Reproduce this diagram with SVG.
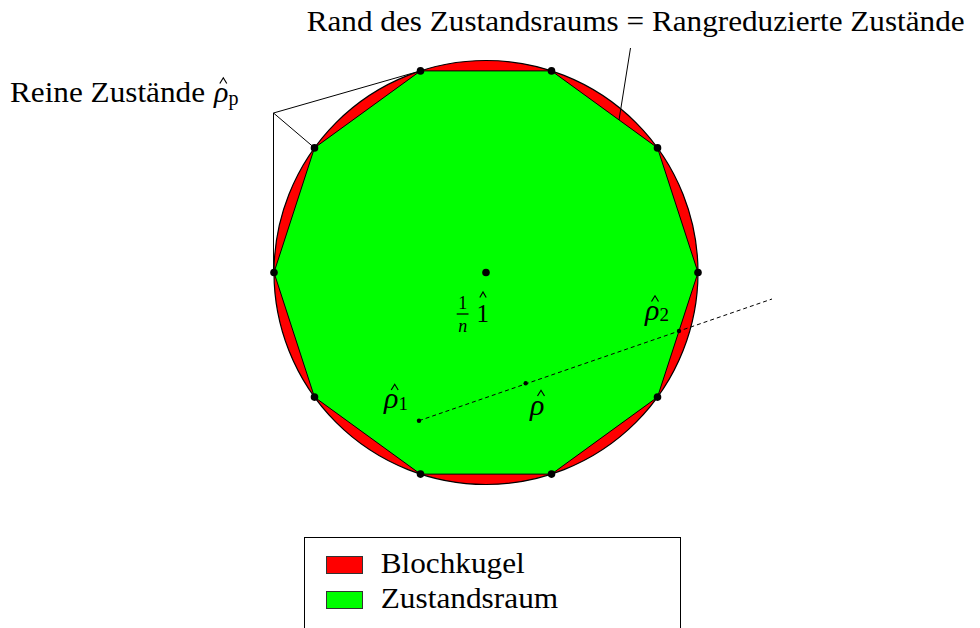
<svg xmlns="http://www.w3.org/2000/svg" width="980" height="628" viewBox="0 0 980 628">
<style>
.t{font-family:"Liberation Serif","Times New Roman",serif;font-size:29px;fill:#000}
.m{font-family:"Liberation Serif","Times New Roman",serif;font-style:italic;fill:#000}
.r{font-family:"Liberation Serif","Times New Roman",serif;fill:#000}
.sub{font-style:normal}
.lead{stroke:#000;stroke-width:1;fill:none}
.dash{stroke:#000;stroke-width:1;stroke-dasharray:4 3;fill:none}
.hat{stroke:#000;stroke-width:1.2;fill:none;stroke-linejoin:miter}
.v{fill:#000}
</style>
<rect width="980" height="628" fill="#fff"/>
<g id="blochkugel">
<circle cx="486" cy="272.5" r="212" fill="#ff0000" stroke="#000" stroke-width="1.2"/>
</g>
<g id="zustandsraum">
<polygon points="698,272.5 657.51,147.89 551.51,70.88 420.49,70.88 314.49,147.89 274,272.5 314.49,397.11 420.49,474.12 551.51,474.12 657.51,397.11" fill="#00ff00" stroke="#000" stroke-width="1"/>
</g>
<g id="connectors">
<polyline class="lead" points="420.49,70.88 273.5,113 273.5,272.5"/>
<line class="lead" x1="273.5" y1="113" x2="314.49" y2="147.89"/>
<line class="lead" x1="630.5" y1="48" x2="619" y2="120"/>
<line class="dash" x1="419" y1="420.7" x2="772" y2="299"/>
</g>
<g id="reine-zustaende">
<circle class="v" cx="698" cy="272.5" r="3.8"/>
<circle class="v" cx="657.51" cy="147.89" r="3.8"/>
<circle class="v" cx="551.51" cy="70.88" r="3.8"/>
<circle class="v" cx="420.49" cy="70.88" r="3.8"/>
<circle class="v" cx="314.49" cy="147.89" r="3.8"/>
<circle class="v" cx="274" cy="272.5" r="3.8"/>
<circle class="v" cx="314.49" cy="397.11" r="3.8"/>
<circle class="v" cx="420.49" cy="474.12" r="3.8"/>
<circle class="v" cx="551.51" cy="474.12" r="3.8"/>
<circle class="v" cx="657.51" cy="397.11" r="3.8"/>
</g>
<g id="identitaet">
<circle class="v" cx="486" cy="272.5" r="3.8"/>
<text class="r" x="462.8" y="309.3" font-size="18" text-anchor="middle">1</text>
<line x1="456.7" y1="314" x2="468.5" y2="314" stroke="#000" stroke-width="1.3"/>
<text class="m" x="462.8" y="332.3" font-size="18" text-anchor="middle">n</text>
<text class="r" x="476.5" y="321.7" font-size="25">1</text>
<polyline class="hat" points="479.8,297.5 483,292 486.2,297.5"/>
</g>
<g id="rho1">
<circle class="v" cx="419" cy="420.7" r="2.2"/>
<text class="m" x="384" y="408" font-size="30">ρ<tspan class="sub" font-size="19" dy="1.5">1</tspan></text>
<polyline class="hat" points="391.2,390 394.7,384.3 398.2,390"/>
</g>
<g id="rho">
<circle class="v" cx="525.7" cy="383.3" r="2.2"/>
<text class="m" x="530" y="414.5" font-size="30">ρ</text>
<polyline class="hat" points="537.5,396 541,390.3 544.5,396"/>
</g>
<g id="rho2">
<circle class="v" cx="679" cy="331" r="2.2"/>
<text class="m" x="645" y="319.5" font-size="30">ρ<tspan class="sub" font-size="19" dy="1.5">2</tspan></text>
<polyline class="hat" points="651.5,301.5 655,295.8 658.5,301.5"/>
</g>
<g id="label-rand">
<text class="t" x="306.7" y="31" textLength="658" lengthAdjust="spacingAndGlyphs">Rand des Zustandsraums = Rangreduzierte Zustände</text>
</g>
<g id="label-rein">
<text class="t" x="10" y="101.7" textLength="195" lengthAdjust="spacingAndGlyphs">Reine Zustände</text>
<text class="m" x="214" y="101.7" font-size="30">ρ<tspan class="sub" font-size="20" dy="3">p</tspan></text>
<polyline class="hat" points="219.8,83.5 223.3,77.8 226.8,83.5"/>
</g>
<g id="legend">
<rect x="304.5" y="537.5" width="376" height="120" fill="#fff" stroke="#000" stroke-width="1"/>
<rect x="326.5" y="556.5" width="36" height="17" fill="#ff0000" stroke="#333" stroke-width="1"/>
<text class="t" x="380.7" y="572.7" textLength="144" lengthAdjust="spacingAndGlyphs">Blochkugel</text>
<rect x="326.5" y="591.5" width="36" height="17" fill="#00ff00" stroke="#333" stroke-width="1"/>
<text class="t" x="380.7" y="608.3" textLength="177.5" lengthAdjust="spacingAndGlyphs">Zustandsraum</text>
</g>
</svg>
